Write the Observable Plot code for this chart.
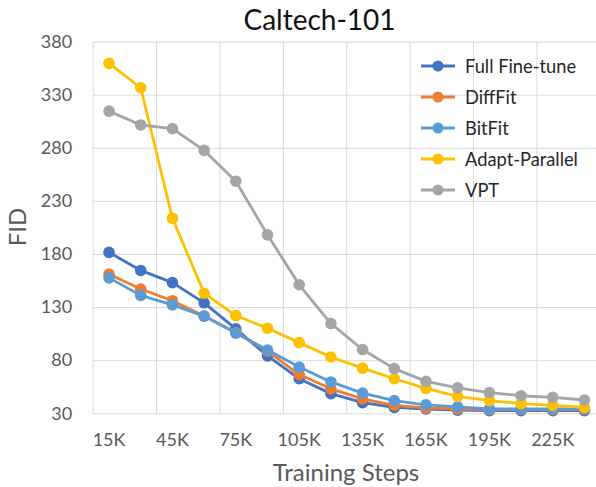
<!DOCTYPE html>
<html>
<head>
<meta charset="utf-8">
<script src="https://cdn.jsdelivr.net/npm/d3@7"></script>
<script src="https://cdn.jsdelivr.net/npm/@observablehq/plot@0.6"></script>
<style>
  html, body { margin: 0; padding: 0; background: #fff; }
  #wrap { position: relative; width: 596px; height: 487px; overflow: hidden; font-family: Lato, "Open Sans", sans-serif; }
  #chart { position: absolute; left: 0; top: 0; }
  .title { position: absolute; top: 3px; left: 0; width: 639px; text-align: center; font-size: 28px; color: #111; line-height: 1.2; }
  .xlab { position: absolute; top: 460px; left: 92px; width: 508px; text-align: center; font-size: 24px; color: #595959; line-height: 1; }
  .ylab { position: absolute; left: 16px; top: 227px; transform: translate(-50%, -50%) rotate(-90deg); font-size: 24px; color: #595959; white-space: nowrap; }
  #legend { position: absolute; left: 421px; top: 50px; }
  .item { display: flex; align-items: center; height: 31px; font-size: 18.3px; color: #262626; }
  .item svg { margin-right: 10px; }
</style>
</head>
<body>
<div id="wrap">
  <div id="chart"></div>
  <div class="title">Caltech-101</div>
  <div class="xlab">Training Steps</div>
  <div class="ylab">FID</div>
  <div id="legend"></div>
</div>
<script>
const steps = [15, 30, 45, 60, 75, 90, 105, 120, 135, 150, 165, 180, 195, 210, 225, 240];
const seriesNames = ["Full Fine-tune", "DiffFit", "BitFit", "Adapt-Parallel", "VPT"];
const seriesColors = ["#4472C4", "#ED7D31", "#5B9BD5", "#FFC000", "#A5A5A5"];
const fullFineTune = [182, 165, 153.5, 134.5, 110, 84.5, 63, 49, 40.5, 36, 34.5, 33.5, 33, 33, 33, 33];
const diffFit      = [161.5, 147.5, 136.5, 122, 106.5, 89, 67, 53.5, 44, 38, 35.5, 34.5, 34, 34, 34, 34];
const bitFit       = [158, 141.5, 132.5, 122, 106, 90, 74, 60, 49.5, 42.5, 38.5, 36.5, 34.5, 34.5, 34.5, 34.5];
const adaptParallel= [360, 337, 214, 143.5, 122.5, 110.5, 97, 83.5, 73, 63, 54, 46.5, 42.5, 39.5, 38, 36];
const vpt          = [315, 302, 298.5, 278, 249, 198.5, 151.5, 115, 90.5, 72.5, 60.5, 54.5, 50, 47, 45.5, 43];
const yTicks = [30, 80, 130, 180, 230, 280, 330, 380];
const xTickLabels = [15, 45, 75, 105, 135, 165, 195, 225];
const xGrid = [7.5, 37.5, 67.5, 97.5, 127.5, 157.5, 187.5, 217.5, 247.5];

const valuesBySeries = [fullFineTune, diffFit, bitFit, adaptParallel, vpt];
const data = seriesNames.map((name, i) => steps.map((s, j) => ({series: name, step: s, fid: valuesBySeries[i][j]})));

const marks = [
  Plot.ruleY(yTicks, {stroke: "#d9d9d9", strokeWidth: 1}),
  Plot.ruleX(xGrid, {stroke: "#d9d9d9", strokeWidth: 1}),
  Plot.axisY({ticks: yTicks, tickSize: 0, tickPadding: 21, fontSize: 18, label: null, fill: "#595959"}),
  Plot.axisX({ticks: xTickLabels, tickSize: 0, tickPadding: 19, fontSize: 18, label: null, tickFormat: d => d + "K", fill: "#595959"})
];
data.forEach(d => {
  marks.push(Plot.line(d, {x: "step", y: "fid", stroke: "series", strokeWidth: 2.8}));
  marks.push(Plot.dot(d, {x: "step", y: "fid", fill: "series", r: 5.8}));
});

const chart = Plot.plot({
  width: 596,
  height: 487,
  marginLeft: 92.7,
  marginRight: 0,
  marginTop: 41.6,
  marginBottom: 73.7,
  style: {fontFamily: "Lato, sans-serif", background: "transparent", color: "#595959"},
  x: {type: "linear", domain: [7.5, 245.7], axis: null},
  y: {type: "linear", domain: [30, 380], axis: null},
  color: {domain: seriesNames, range: seriesColors},
  marks
});
document.getElementById("chart").appendChild(chart);

const legend = document.getElementById("legend");
seriesNames.forEach((name, i) => {
  const item = document.createElement("div");
  item.className = "item";
  item.innerHTML = `<svg width="34" height="14"><line x1="0" x2="34" y1="7" y2="7" stroke="${seriesColors[i]}" stroke-width="3"/><circle cx="17" cy="7" r="5.5" fill="${seriesColors[i]}"/></svg><span>${name}</span>`;
  legend.appendChild(item);
});
</script>
</body>
</html>
